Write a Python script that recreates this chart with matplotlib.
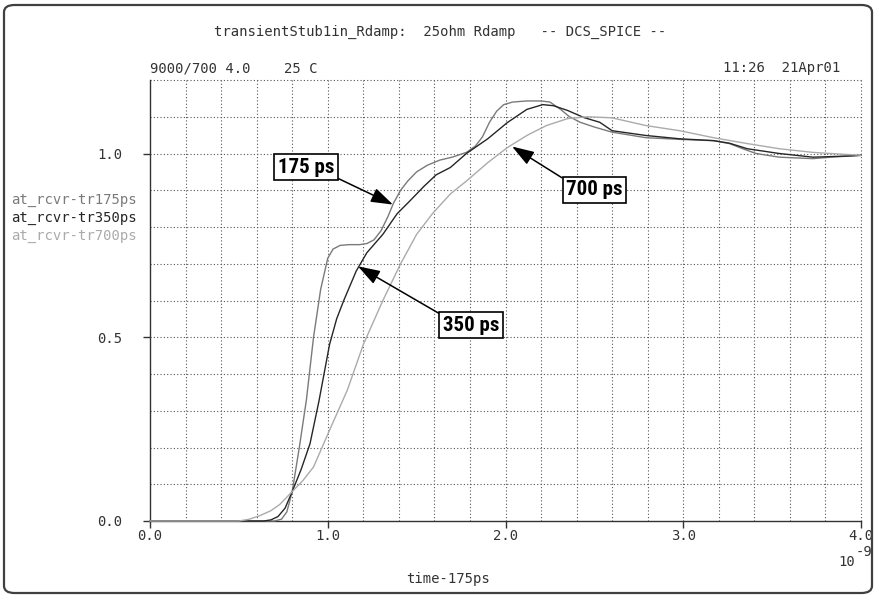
import matplotlib
matplotlib.use("Agg")
import matplotlib.pyplot as plt
from matplotlib.patches import FancyBboxPatch
from matplotlib import font_manager as fm

# ---------------- data (time in ns, voltage normalised) ----------------
t175 = [0.0, 0.70, 0.74, 0.77, 0.80, 0.84, 0.88, 0.92, 0.96, 1.00, 1.03, 1.07,
        1.12, 1.18, 1.22, 1.26, 1.30, 1.34, 1.37, 1.41, 1.45, 1.50, 1.56, 1.63,
        1.70, 1.78, 1.83, 1.87, 1.91, 1.95, 1.99, 2.04, 2.12, 2.20, 2.25, 2.31,
        2.36, 2.42, 2.50, 2.60, 2.79, 3.00, 3.17, 3.26, 3.34, 3.41, 3.54, 3.73,
        3.83, 4.0]
v175 = [0.0, 0.0, 0.005, 0.025, 0.08, 0.2, 0.33, 0.5, 0.63, 0.715, 0.74, 0.75,
        0.752, 0.752, 0.755, 0.765, 0.79, 0.83, 0.865, 0.9, 0.925, 0.95, 0.968, 0.982,
        0.99, 1.003, 1.02, 1.045, 1.085, 1.115, 1.133, 1.14, 1.143, 1.143, 1.14, 1.12,
        1.10, 1.085, 1.072, 1.058, 1.043, 1.038, 1.035, 1.027, 1.012, 1.0, 0.99, 0.986,
        0.99, 0.995]

t350 = [0.0, 0.64, 0.68, 0.72, 0.76, 0.80, 0.85, 0.90, 0.95, 1.01, 1.05, 1.09,
        1.16, 1.22, 1.31, 1.39, 1.46, 1.54, 1.61, 1.69, 1.78, 1.84, 1.90, 2.01,
        2.12, 2.21, 2.27, 2.35, 2.44, 2.53, 2.60, 2.79, 2.98, 3.17, 3.26, 3.36,
        3.54, 3.73, 3.92, 4.0]
v350 = [0.0, 0.0, 0.003, 0.012, 0.035, 0.08, 0.14, 0.21, 0.325, 0.48, 0.55, 0.60,
        0.68, 0.73, 0.78, 0.836, 0.87, 0.91, 0.942, 0.962, 1.0, 1.02, 1.04, 1.084,
        1.12, 1.133, 1.13, 1.117, 1.098, 1.085, 1.062, 1.049, 1.04, 1.035, 1.028, 1.013,
        1.0, 0.99, 0.993, 0.995]

t700 = [0.0, 0.50, 0.56, 0.62, 0.68, 0.73, 0.80, 0.86, 0.92, 1.01, 1.11, 1.20,
        1.31, 1.41, 1.50, 1.59, 1.69, 1.78, 1.90, 2.01, 2.12, 2.23, 2.35, 2.46,
        2.60, 2.79, 2.98, 3.17, 3.36, 3.54, 3.73, 4.0]
v700 = [0.0, 0.0, 0.005, 0.015, 0.028, 0.045, 0.08, 0.11, 0.147, 0.247, 0.356, 0.48,
        0.60, 0.70, 0.78, 0.837, 0.89, 0.925, 0.975, 1.016, 1.049, 1.076, 1.095, 1.1,
        1.097, 1.076, 1.062, 1.043, 1.027, 1.013, 1.003, 0.995]

series_labels = ["at_rcvr-tr175ps", "at_rcvr-tr350ps", "at_rcvr-tr700ps"]
series_colors = ["#7a7a7a", "#262626", "#ababab"]
x_ticks = [0.0, 1.0, 2.0, 3.0, 4.0]
x_ticklabels = ["0.0", "1.0", "2.0", "3.0", "4.0"]
y_ticks = [0.0, 0.5, 1.0]
y_ticklabels = ["0.0", "0.5", "1.0"]
annot_labels = ["175 ps", "350 ps", "700 ps"]
annot_tips = [(1.367, 0.861), (1.170, 0.693), (2.037, 1.019)]
annot_text = [(0.878, 0.963), (1.806, 0.533), (2.50, 0.901)]
annot_relpos = [(1, 0), (0, 1), (0, 1)]

W, H = 875, 597
MONO = "DejaVu Sans Mono"
TXT = "#333333"


# pick a condensed bold face for the callout labels, if one is installed
def pick_narrow():
    for fam, stretch in [("Liberation Sans Narrow", "condensed"),
                         ("Roboto Condensed", "condensed"),
                         ("DejaVu Sans", "condensed")]:
        try:
            fp = fm.FontProperties(family=fam, weight="bold", stretch=stretch)
            path = fm.findfont(fp, fallback_to_default=False)
            low = path.lower()
            if "narrow" in low or "condensed" in low:
                return fam, stretch, 15
        except Exception:
            pass
    return "DejaVu Sans", "normal", 12


NARROW_FAM, NARROW_STRETCH, NARROW_SIZE = pick_narrow()

fig = plt.figure(figsize=(W / 100, H / 100), dpi=100)


def P(x, y):
    return (x / W, 1 - y / H)


# outer rounded frame
frame = FancyBboxPatch(P(4, 593), 868 / W, 588 / H,
                       boxstyle="round,pad=0,rounding_size=0.012",
                       transform=fig.transFigure, fill=False,
                       edgecolor="#404040", linewidth=1.6)
fig.patches.append(frame)

ax = fig.add_axes([150 / W, 1 - 521 / H, (861 - 150) / W, (521 - 80) / H])
ax.set_xlim(0, 4.0)
ax.set_ylim(0, 1.2)

# grid
for gx in [i * 0.2 for i in range(1, 21)]:
    ax.axvline(gx, color="#555555", lw=0.8, ls=(0, (1, 2)), zorder=1, clip_on=False)
for gy in [i * 0.1 for i in range(1, 13)]:
    ax.axhline(gy, color="#555555", lw=0.8, ls=(0, (1, 2)), zorder=1, clip_on=False)

for t, v, c in zip([t175, t350, t700], [v175, v350, v700], series_colors):
    ax.plot(t, v, color=c, lw=1.0, zorder=3, clip_on=False, solid_joinstyle="round")

for s in ["top", "right"]:
    ax.spines[s].set_visible(False)
for s in ["left", "bottom"]:
    ax.spines[s].set_color("#333333")
    ax.spines[s].set_linewidth(1.0)

ax.set_xticks(x_ticks)
ax.set_xticklabels(x_ticklabels, fontfamily=MONO, fontsize=10, color=TXT)
ax.set_yticks(y_ticks)
ax.set_yticklabels(y_ticklabels, fontfamily=MONO, fontsize=10, color=TXT)
ax.tick_params(axis="x", direction="out", length=5, width=1, color="#333333", pad=1)
ax.tick_params(axis="y", direction="out", length=5, width=1, color="#333333", pad=15)

# annotations
for lab, tip, tp, rp in zip(annot_labels, annot_tips, annot_text, annot_relpos):
    ax.annotate(lab, xy=tip, xytext=tp, textcoords="data",
                ha="center", va="center", fontsize=NARROW_SIZE, fontweight="bold",
                fontfamily=NARROW_FAM, fontstretch=NARROW_STRETCH, color="black",
                bbox=dict(boxstyle="square,pad=0.17", fc="white", ec="black", lw=1.2),
                arrowprops=dict(arrowstyle="-|>,head_length=0.9,head_width=0.3",
                                mutation_scale=15,
                                color="black", lw=1.1, relpos=rp, shrinkA=0, shrinkB=0),
                zorder=5)

# texts
fig.text(*P(440, 32), "transientStub1in_Rdamp:  25ohm Rdamp   -- DCS_SPICE --",
         ha="center", va="center", fontfamily=MONO, fontsize=10, color=TXT)
fig.text(*P(150, 68), "9000/700 4.0    25 C", ha="left", va="center",
         fontfamily=MONO, fontsize=10, color=TXT)
fig.text(*P(840, 68), "11:26  21Apr01", ha="right", va="center",
         fontfamily=MONO, fontsize=10, color=TXT)
for i, (lab, c) in enumerate(zip(series_labels, series_colors)):
    fig.text(*P(11, 200 + 18 * i), lab, ha="left", va="center",
             fontfamily=MONO, fontsize=10, color=c)
fig.text(*P(855, 562), "10", ha="right", va="center", fontfamily=MONO, fontsize=10, color=TXT)
fig.text(*P(856, 552), "-9", ha="left", va="center", fontfamily=MONO, fontsize=10, color=TXT)
fig.text(*P(448, 579), "time-175ps", ha="center", va="center",
         fontfamily=MONO, fontsize=10, color=TXT)

fig.savefig("out.png", dpi=100)
